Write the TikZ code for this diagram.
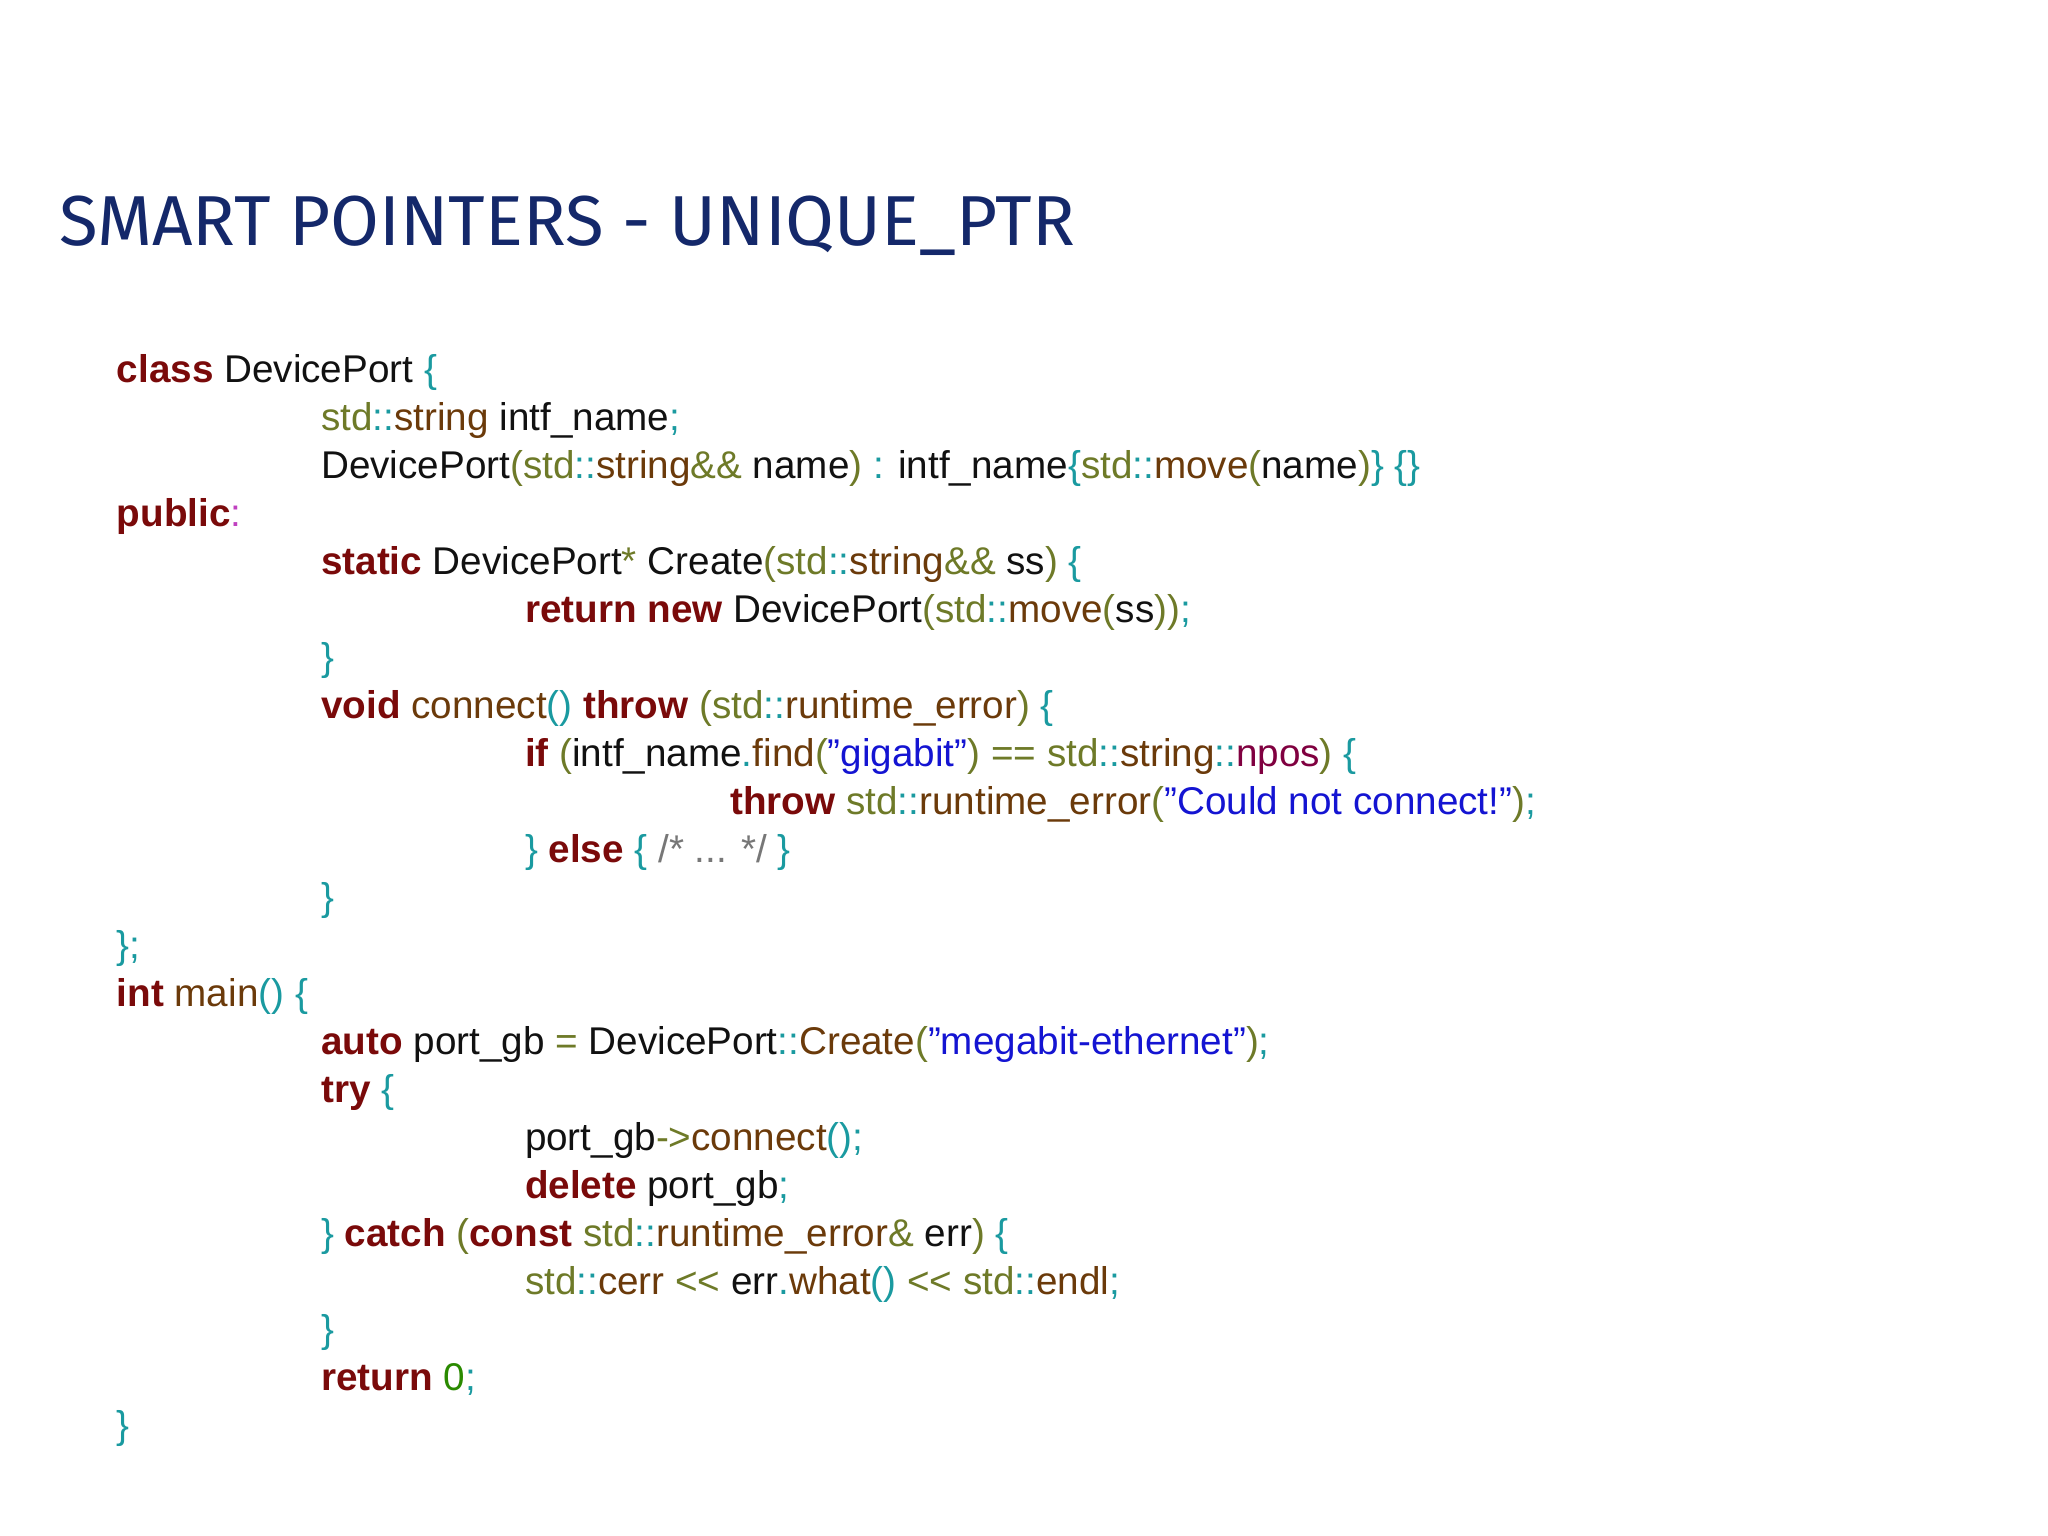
\documentclass[tikz,border=0pt]{standalone}
\usepackage{fontspec}
\setmainfont{Liberation Sans}
\newfontfamily\titlefont{Fira Sans}
\definecolor{kwc}{HTML}{7A0A0A}
\definecolor{puc}{HTML}{1A9AA0}
\definecolor{stc}{HTML}{6E7A28}
\definecolor{tyc}{HTML}{6B3A0A}
\definecolor{src}{HTML}{1414D2}
\definecolor{npc}{HTML}{800040}
\definecolor{nuc}{HTML}{2A8A00}
\definecolor{cmc}{HTML}{777777}
\definecolor{txc}{HTML}{111111}
\definecolor{tic}{HTML}{14286A}
\definecolor{pkc}{HTML}{C040C0}
\newcommand\kw[1]{\textcolor{kwc}{\bfseries #1}}
\newcommand\pu[1]{\textcolor{puc}{#1}}
\newcommand\stt[1]{\textcolor{stc}{#1}}
\newcommand\ty[1]{\textcolor{tyc}{#1}}
\newcommand\sr[1]{\textcolor{src}{\symbol{34}#1\symbol{34}}}
\newcommand\std{\stt{std}\pu{::}}
\newcommand\shl{\stt{<{}<}}
\tikzset{code/.style={anchor=base west,inner sep=0pt,text=txc,font=\fontsize{19.4}{23}\selectfont}}
\begin{document}
\begin{tikzpicture}[x=1bp,y=1bp]
\useasboundingbox[fill=white] (0,0) rectangle (1024,768);
\node[anchor=base west,inner sep=0pt,text=tic,font=\titlefont\fontsize{35.5}{42}\selectfont] (title) at (29.5,645) {SMART POINTERS - UNIQUE\_PTR};
\def\A{58.2}\def\B{160.4}\def\C{262.3}\def\D{365}
\def\L#1{576.6-24.0*#1}
\node[code] (l0) at (\A,{\L0}) {\kw{class} DevicePort \pu{\{}};
\node[code] (l1) at (\B,{\L1}) {\std\ty{string} intf\_name\pu{;}};
\node[code] (l2) at (\B,{\L2}) {DevicePort\stt{(}\std\ty{string}\stt{\&\&} name\stt{)} \pu{:} intf\_name\pu{\{}\std\ty{move}\stt{(}name\stt{)}\pu{\}} \pu{\{\}}};
\node[code] (l3) at (\A,{\L3}) {\kw{public}\textcolor{pkc}{:}};
\node[code] (l4) at (\B,{\L4}) {\kw{static} DevicePort\stt{*} Create\stt{(}\std\ty{string}\stt{\&\&} ss\stt{)} \pu{\{}};
\node[code] (l5) at (\C,{\L5}) {\kw{return} \kw{new} DevicePort\stt{(}\std\ty{move}\stt{(}ss\stt{))}\pu{;}};
\node[code] (l6) at (\B,{\L6}) {\pu{\}}};
\node[code] (l7) at (\B,{\L7}) {\kw{void} \ty{connect}\pu{()} \kw{throw} \stt{(}\std\ty{runtime\_error}\stt{)} \pu{\{}};
\node[code] (l8) at (\C,{\L8}) {\kw{if} \stt{(}intf\_name\pu{.}\ty{find}\stt{(}\sr{gigabit}\stt{)} \stt{==} \std\ty{string}\pu{::}\textcolor{npc}{npos}\stt{)} \pu{\{}};
\node[code] (l9) at (\D,{\L9}) {\kw{throw} \std\ty{runtime\_error}\stt{(}\sr{Could not connect!}\stt{)}\pu{;}};
\node[code] (l10) at (\C,{\L{10}}) {\pu{\}} \kw{else} \pu{\{} \textcolor{cmc}{/* ... */} \pu{\}}};
\node[code] (l11) at (\B,{\L{11}}) {\pu{\}}};
\node[code] (l12) at (\A,{\L{12}}) {\pu{\};}};
\node[code] (l13) at (\A,{\L{13}}) {\kw{int} \ty{main}\pu{()} \pu{\{}};
\node[code] (l14) at (\B,{\L{14}}) {\kw{auto} port\_gb \stt{=} DevicePort\pu{::}\ty{Create}\stt{(}\sr{megabit-ethernet}\stt{)}\pu{;}};
\node[code] (l15) at (\B,{\L{15}}) {\kw{try} \pu{\{}};
\node[code] (l16) at (\C,{\L{16}}) {port\_gb\stt{-{}>}\ty{connect}\pu{();}};
\node[code] (l17) at (\C,{\L{17}}) {\kw{delete} port\_gb\pu{;}};
\node[code] (l18) at (\B,{\L{18}}) {\pu{\}} \kw{catch} \stt{(}\kw{const} \std\ty{runtime\_error}\stt{\&} err\stt{)} \pu{\{}};
\node[code] (l19) at (\C,{\L{19}}) {\std\ty{cerr} \shl{} err\pu{.}\ty{what}\pu{()} \shl{} \std\ty{endl}\pu{;}};
\node[code] (l20) at (\B,{\L{20}}) {\pu{\}}};
\node[code] (l21) at (\B,{\L{21}}) {\kw{return} \textcolor{nuc}{0}\pu{;}};
\node[code] (l22) at (\A,{\L{22}}) {\pu{\}}};
\end{tikzpicture}
\end{document}
